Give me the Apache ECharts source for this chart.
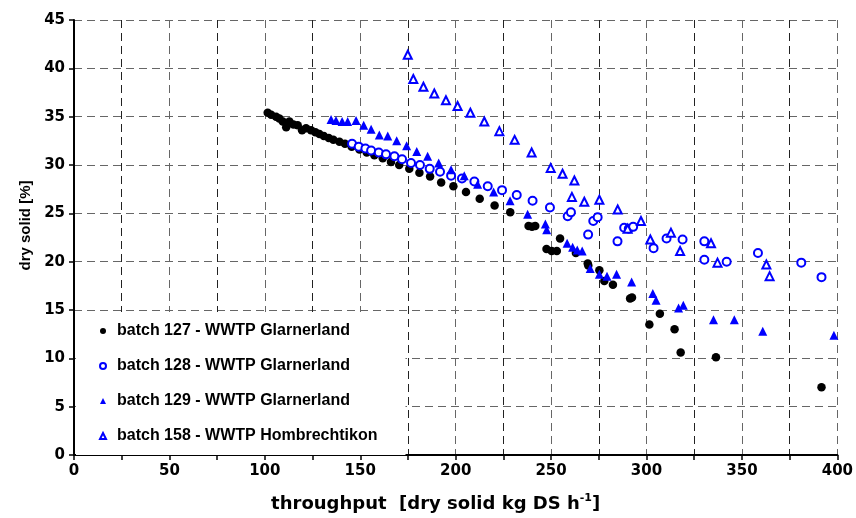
<!DOCTYPE html>
<html>
<head>
<meta charset="utf-8">
<script src="https://cdn.jsdelivr.net/npm/echarts@6/dist/echarts.min.js"></script>
<style>
html,body{margin:0;padding:0;background:#fff;}
#c{width:856px;height:518px;}
</style>
</head>
<body>
<div id="c"></div>
<script>
// ---- data (throughput [kg DS/h], dry solid [%]) ----
const seriesNames = [
  'batch 127 - WWTP Glarnerland',
  'batch 128 - WWTP Glarnerland',
  'batch 129 - WWTP Glarnerland',
  'batch 158 - WWTP Hombrechtikon'
];
const batch127 = [
  [101.5,35.4],[103.3,35.2],[105.9,35.0],[107.6,34.8],[109.4,34.5],[111.2,33.9],[112.9,34.5],
  [115,34.2],[117.2,34.1],[119.5,33.6],[121.6,33.8],[124.2,33.6],[126.5,33.4],[128.6,33.2],
  [130.9,33.0],[133.5,32.8],[135.9,32.6],[139.1,32.4],[142,32.2],[145.5,31.9],[149.6,31.6],
  [153.4,31.3],[157.4,31.0],[161.8,30.7],[166.1,30.3],[170.4,30.0],[175.7,29.6],[181,29.2],
  [186.6,28.8],[192.4,28.2],[198.8,27.8],[205.4,27.2],[212.6,26.5],[220.4,25.8],[228.6,25.1],
  [238.2,23.7],[240,23.6],[241.7,23.7],[247.6,21.3],[250.3,21.1],[253,21.1],[254.7,22.4],
  [263,20.9],[269.2,19.8],[269.5,19.6],[275.3,19.1],[277.9,18.0],[282.4,17.6],[291.4,16.2],
  [292.4,16.3],[301.5,13.5],[307,14.6],[314.7,13.0],[317.9,10.6],[336.4,10.1],[391.7,7.0]
];
const batch128 = [
  [145.7,32.2],[149.2,31.9],[152.7,31.7],[155.7,31.5],[159.7,31.3],[163.5,31.1],[167.9,30.9],
  [171.9,30.6],[176.6,30.2],[181.3,30.0],[186.4,29.6],[191.8,29.3],[197.6,28.9],[203.3,28.6],
  [209.8,28.3],[216.8,27.8],[224.3,27.4],[232,26.9],[240.3,26.3],[249.4,25.6],[258.7,24.7],
  [260.4,25.1],[269.4,22.8],[272.1,24.2],[274.4,24.6],[284.8,22.1],[288.3,23.5],[290.7,23.4],
  [293,23.6],[303.7,21.4],[310.5,22.4],[318.9,22.3],[330.3,22.1],[330.3,20.2],[342,20.0],
  [358.4,20.9],[381.1,19.9],[391.7,18.4]
];
const batch129 = [
  [134.7,34.7],[137.3,34.6],[140.5,34.5],[143.4,34.5],[147.8,34.6],[151.8,34.1],[155.7,33.7],
  [160,33.1],[164.4,33.0],[169.1,32.5],[174.3,32.0],[179.6,31.4],[185.3,30.9],[191.1,30.2],
  [197.6,29.5],[204.5,28.9],[211.5,28.0],[219.9,27.2],[228.5,26.3],[237.7,24.9],[247,23.9],
  [247.7,23.3],[258.4,21.9],[261.3,21.5],[263.7,21.2],[266.3,21.1],[270.5,19.3],[275.3,18.7],
  [279.3,18.5],[284.3,18.7],[292.2,17.9],[303.3,16.7],[305,16.0],[316.8,15.2],[319.3,15.5],
  [335.1,14.0],[346,14.0],[360.9,12.8],[398.2,12.4]
];
const batch158 = [
  [174.9,41.4],[177.8,38.9],[183.1,38.1],[188.8,37.4],[194.9,36.7],[201,36.1],[207.7,35.4],
  [215,34.5],[222.9,33.5],[230.9,32.6],[239.8,31.3],[249.8,29.7],[256,29.1],[262.2,28.4],
  [260.9,26.7],[267.4,26.2],[275.3,26.4],[284.9,25.4],[290.1,23.4],[297.1,24.2],[302,22.3],
  [312.8,23.0],[317.6,21.1],[333.8,21.9],[337.2,19.9],[362.8,19.7],[364.5,18.5]
];
const xTitle = 'throughput  [dry solid kg DS h';
const xTitleSup = '-1';
const yTitle = 'dry solid [%]';

const BLUE = '#0000ff';
const tickFont = {fontFamily:'DejaVu Sans', fontWeight:'bold', fontSize:15, color:'#000'};
const dash = {type:[8,5], color:'#666', width:1};

const chart = echarts.init(document.getElementById('c'), null, {renderer:'canvas'});
chart.setOption({
  animation:false,
  backgroundColor:'#fff',
  grid:{left:74, right:18, top:20, bottom:61, containLabel:false},
  xAxis:{
    type:'value', min:0, max:400, interval:50,
    axisLine:{show:true, onZero:false, lineStyle:{color:'#000', width:2}},
    axisTick:{show:true, length:5, lineStyle:{color:'#000', width:1.5}},
    minorTick:{show:true, splitNumber:2, length:5, lineStyle:{color:'#000', width:1.5}},
    splitLine:{show:true, lineStyle:dash},
    minorSplitLine:{show:true, lineStyle:{type:[8,5], color:'#222', width:1}},
    axisLabel:Object.assign({margin:9}, tickFont),
    name:'{a|' + xTitle + '}{s|' + xTitleSup + '}{a|]}',
    nameLocation:'middle', nameGap:38,
    nameTextStyle:{
      padding:[0,40,0,0],
      rich:{
        a:{fontFamily:'DejaVu Sans', fontWeight:'bold', fontSize:18, color:'#000', lineHeight:22},
        s:{fontFamily:'DejaVu Sans', fontWeight:'bold', fontSize:11, color:'#000', verticalAlign:'top', lineHeight:22, padding:[0,0,9,0]}
      }
    }
  },
  yAxis:{
    type:'value', min:0, max:45, interval:5,
    axisLine:{show:true, onZero:false, lineStyle:{color:'#000', width:2}},
    axisTick:{show:true, length:5, lineStyle:{color:'#000', width:1.5}},
    splitLine:{show:true, lineStyle:dash},
    axisLabel:Object.assign({margin:9}, tickFont),
    name:yTitle, nameLocation:'middle', nameGap:40, nameRotate:90,
    nameTextStyle:{fontFamily:'Liberation Sans', fontWeight:'bold', fontSize:15, color:'#000', padding:[0,0,0,24]}
  },
  legend:{
    orient:'vertical', left:76, top:312,
    backgroundColor:'#fff',
    padding:[11,28,11,23],
    itemGap:19, itemWidth:6, itemHeight:6,
    textStyle:{fontFamily:'Liberation Sans', fontWeight:'bold', fontSize:16, color:'#000', padding:[0,0,0,6]},
    data:[
      {name:seriesNames[0], icon:'circle', itemStyle:{borderWidth:0}},
      {name:seriesNames[1], icon:'emptyCircle', itemStyle:{borderWidth:1}},
      {name:seriesNames[2], icon:'triangle', itemStyle:{borderWidth:0}},
      {name:seriesNames[3], icon:'emptyTriangle', itemStyle:{borderWidth:1}}
    ]
  },
  series:[
    {name:seriesNames[0], type:'scatter', data:batch127, symbol:'circle', symbolSize:8.5,
     itemStyle:{color:'#000', opacity:1}},
    {name:seriesNames[1], type:'scatter', data:batch128, symbol:'emptyCircle', symbolSize:8,
     itemStyle:{color:BLUE, borderWidth:1.4, opacity:1}},
    {name:seriesNames[2], type:'scatter', data:batch129, symbol:'triangle', symbolSize:9,
     itemStyle:{color:BLUE, opacity:1}},
    {name:seriesNames[3], type:'scatter', data:batch158, symbol:'emptyTriangle', symbolSize:8,
     itemStyle:{color:BLUE, borderWidth:1.1, opacity:1}}
  ]
});
</script>
</body>
</html>
